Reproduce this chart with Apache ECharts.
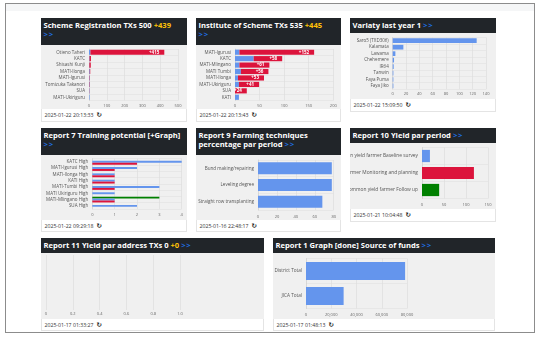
<!DOCTYPE html>
<html><head><meta charset="utf-8">
<script src="https://cdn.jsdelivr.net/npm/echarts/dist/echarts.min.js"></script>
<style>
body{margin:0;width:541px;height:337px;background:#fff;position:relative;overflow:hidden;font-family:'Open Sans',sans-serif}
.frame{position:absolute;left:5px;top:2.5px;width:530px;height:330px;border:1.5px solid #8c8c8c;box-sizing:border-box;z-index:10;pointer-events:none}
.band{position:absolute;left:6px;top:4px;width:528px;height:7px;background:#f5f6f7}
.hd{position:absolute;background:#212529;color:#fff;font-weight:700;font-size:7.6px;line-height:9px;padding:3.2px 0 0 2.5px;box-sizing:border-box;white-space:nowrap;overflow:hidden}
.hd .y{color:#ffc107}.hd .b{color:#1f6fe5;letter-spacing:0.8px}
.ch{position:absolute;background:#f0f0f0;overflow:hidden}
.ft{position:absolute;background:#fff;font-size:5.2px;color:#333;box-sizing:border-box;padding-left:2.5px;white-space:nowrap;border:0.6px solid #e4e4e4;border-top:none}
.ft .r{font-family:'DejaVu Sans';font-weight:700;font-size:6.5px;margin-left:3px;color:#222}
</style></head><body>
<div class="band"></div>
<div class="frame"></div>
<script>
// ---------- DATA ----------
const p1Categories = ['Otieno Taheri','KATC','Shisashi Kunji','MATI-Ilonga','MATI-Igurusi','Tomizuka Takanori','SUA','MATI-Ukiriguru'];
const p1Previous = [8, 3, 2, 4, 3, 3, 2, 3];
const p1New = [415, 8, 8, 3, 2, 2, 1, 0];

const p2Categories = ['MATI-Igurusi','KATC','MATI-Mlingano','MATI Tumbi','MATI-Ilonga','MATI-Ukiriguru','SUA','KATI'];
const p2Previous = [9, 38, 9, 12, 6, 8, 0, 8];
const p2New = [152, 58, 61, 56, 53, 41, 24, 0];

const p3Categories = ['Saro5 (TXD306)','Kalamata','Lawama','Chehemere','IR64','Tanwin','Faya Puma','Faya Jiko'];
const p3Values = [126, 16, 4, 2, 1.5, 1, 1, 1];

const p4Categories = ['KATC High','MATI-Igurusi High','MATI-Ilonga High','KATI High','MATI-Tumbi High','MATI Ukiriguru High','MATI-Mlingano High','SUA High'];
const p4Green = [0, 0, 0, 0, 0, 0, 3, 0];
const p4Blue = [4, 2, 1, 1, 3, 1, 1, 2];
const p4Red = [2, 1, 1, 1, 1, 0, 1, 0];

const p5Categories = ['Bund making/repairing','Leveling degree','Straight row transplanting'];
const p5Values = [78, 78, 68];

const p6Categories = ['Common yield farmer Baseline survey','Common yield farmer Monitoring and planning','Common yield farmer Follow up'];
const p6Values = [18, 118, 39];

const p7Values = [];

const p8Categories = ['District Total','JICA Total'];
const p8Values = [78500, 29800];

const headers = [
  'Scheme Registration TXs 500 <span class="y">+439</span><br><span class="b">&gt;&gt;</span>',
  'Institute of Scheme TXs 535 <span class="y">+445</span><br><span class="b">&gt;&gt;</span>',
  'Variaty last year 1 <span class="b">&gt;&gt;</span>',
  'Report 7 Training potential [+Graph]<br><span class="b">&gt;&gt;</span>',
  'Report 9 Farming techniques<br>percentage par period <span class="b">&gt;&gt;</span>',
  'Report 10 Yield par period <span class="b">&gt;&gt;</span>',
  'Report 11 Yield par address TXs 0 <span class="y">+0</span> <span class="b">&gt;&gt;</span>',
  'Report 1 Graph [done] Source of funds <span class="b">&gt;&gt;</span>'
];
const footers = ['2025-01-22 20:13:33','2025-01-22 20:13:43','2025-01-22 15:09:50','2025-01-22 09:29:18','2025-01-16 22:48:17','2025-01-21 10:04:48','2025-01-17 01:33:27','2025-01-17 01:48:13'];

// ---------- LAYOUT ----------
const layout = [
  {x:41,w:146,y:18,hh:27,ch:64,fh:13},
  {x:196,w:145,y:18,hh:27,ch:64,fh:13},
  {x:350,w:146,y:18,hh:15,ch:66,fh:13},
  {x:41,w:146,y:128,hh:27,ch:65,fh:12},
  {x:196,w:145,y:128,hh:27,ch:65,fh:12},
  {x:350,w:146,y:128,hh:15,ch:66,fh:13},
  {x:41,w:223,y:238,hh:15,ch:66,fh:12},
  {x:273,w:222,y:238,hh:15,ch:66,fh:12}
];
const BLUE='#6495ed', RED='#dc143c', GREEN='#008000';
const charts = [];
layout.forEach((L,i)=>{
  const h=document.createElement('div');h.className='hd';
  Object.assign(h.style,{left:L.x+'px',top:L.y+'px',width:L.w+'px',height:L.hh+'px'});
  h.innerHTML=headers[i];document.body.appendChild(h);
  const c=document.createElement('div');c.className='ch';
  Object.assign(c.style,{left:L.x+'px',top:(L.y+L.hh)+'px',width:L.w+'px',height:L.ch+'px'});
  document.body.appendChild(c);
  const f=document.createElement('div');f.className='ft';
  Object.assign(f.style,{left:L.x+'px',top:(L.y+L.hh+L.ch)+'px',width:L.w+'px',height:L.fh+'px',lineHeight:L.fh+'px'});
  f.innerHTML=footers[i]+'<span class="r">\u21BB</span>';document.body.appendChild(f);
  charts.push(echarts.init(c,null,{renderer:'canvas'}));
});

function base(grid, min, max, interval, cats, opts){
  opts = opts||{};
  grid.outerBoundsMode='none';
  grid.containLabel=false;
  return {
    animation:false,
    grid:grid,
    xAxis:{type:'value',min:min,max:max,interval:interval,
      axisLine:{show:false},axisTick:{show:false},
      splitLine:{lineStyle:{color:'#dadada',width:0.6}},
      axisLabel:{fontSize:4,color:'#666',margin:opts.xm||3,fontFamily:'Open Sans',formatter:opts.fmt,hideOverlap:false}},
    yAxis:{type:'category',data:cats,inverse:true,
      axisLine:{lineStyle:{color:'#cfcfcf',width:0.6}},axisTick:{show:false},
      splitLine:{show:true,lineStyle:{color:'#e0e0e0',width:0.6}},
      axisLabel:{fontSize:opts.yf||4.5,color:'#555',margin:4,fontFamily:'Open Sans',interval:0,hideOverlap:false}},
    series:[]
  };
}
const newLabel = {show:true,position:'insideRight',color:'#fff',fontSize:4.5,fontFamily:'Open Sans',fontWeight:'bold',
  formatter:p=>p.value>=20?('+'+p.value):''};

// P1
let o=base({left:48,right:9,top:4,bottom:8.5},0,500,100,p1Categories);
o.series=[{type:'bar',stack:'a',data:p1Previous,itemStyle:{color:BLUE},barCategoryGap:'20%'},
          {type:'bar',stack:'a',data:p1New,itemStyle:{color:RED},label:newLabel}];
charts[0].setOption(o);
// P2
o=base({left:39,right:7.7,top:4,bottom:8.5},0,200,50,p2Categories);
o.series=[{type:'bar',stack:'a',data:p2Previous,itemStyle:{color:BLUE},barCategoryGap:'20%'},
          {type:'bar',stack:'a',data:p2New,itemStyle:{color:RED},label:newLabel}];
charts[1].setOption(o);
// P3
o=base({left:42.7,right:10,top:4.5,bottom:9.8},0,140,20,p3Categories);
o.series=[{type:'bar',data:p3Values,itemStyle:{color:BLUE},barCategoryGap:'27%'}];
charts[2].setOption(o);
// P4
o=base({left:51.3,right:5.3,top:3.6,bottom:11},0,4,1,p4Categories,{xm:4});
o.series=[{type:'bar',data:p4Green,itemStyle:{color:GREEN},barGap:'0%',barCategoryGap:'8%'},
          {type:'bar',data:p4Blue,itemStyle:{color:BLUE},barGap:'0%',barCategoryGap:'8%'},
          {type:'bar',data:p4Red,itemStyle:{color:RED},barGap:'0%',barCategoryGap:'8%'}];
charts[3].setOption(o);
// P5
o=base({left:62,right:7.3,top:5,bottom:10},0,80,20,p5Categories,{xm:4.5,yf:4.6});
o.series=[{type:'bar',data:p5Values,itemStyle:{color:BLUE},barCategoryGap:'28%'}];
charts[4].setOption(o);
// P6
const p6Colors=[BLUE,RED,GREEN];
o=base({left:72,right:8,top:4.5,bottom:10.5},0,150,50,p6Categories,{xm:4.5,yf:4.85});
o.series=[{type:'bar',data:p6Values.map((v,k)=>({value:v,itemStyle:{color:p6Colors[k]}})),barCategoryGap:'28%'}];
charts[5].setOption(o);
// P7
o=base({left:5,right:84,top:2,bottom:9},0,1,0.2,[],{xm:2,fmt:v=>v===0?'0':v.toFixed(1)});
o.yAxis.splitLine.show=false;o.yAxis.axisLine.show=false;
o.series=[{type:'bar',data:p7Values}];
charts[6].setOption(o);
// P8
o=base({left:33,right:88,top:5.5,bottom:10.5},0,80000,20000,p8Categories,{xm:4.5,yf:4.7,fmt:v=>v.toLocaleString('en-US')});
o.series=[{type:'bar',data:p8Values,itemStyle:{color:BLUE},barCategoryGap:'28%'}];
charts[7].setOption(o);
</script>
</body></html>
